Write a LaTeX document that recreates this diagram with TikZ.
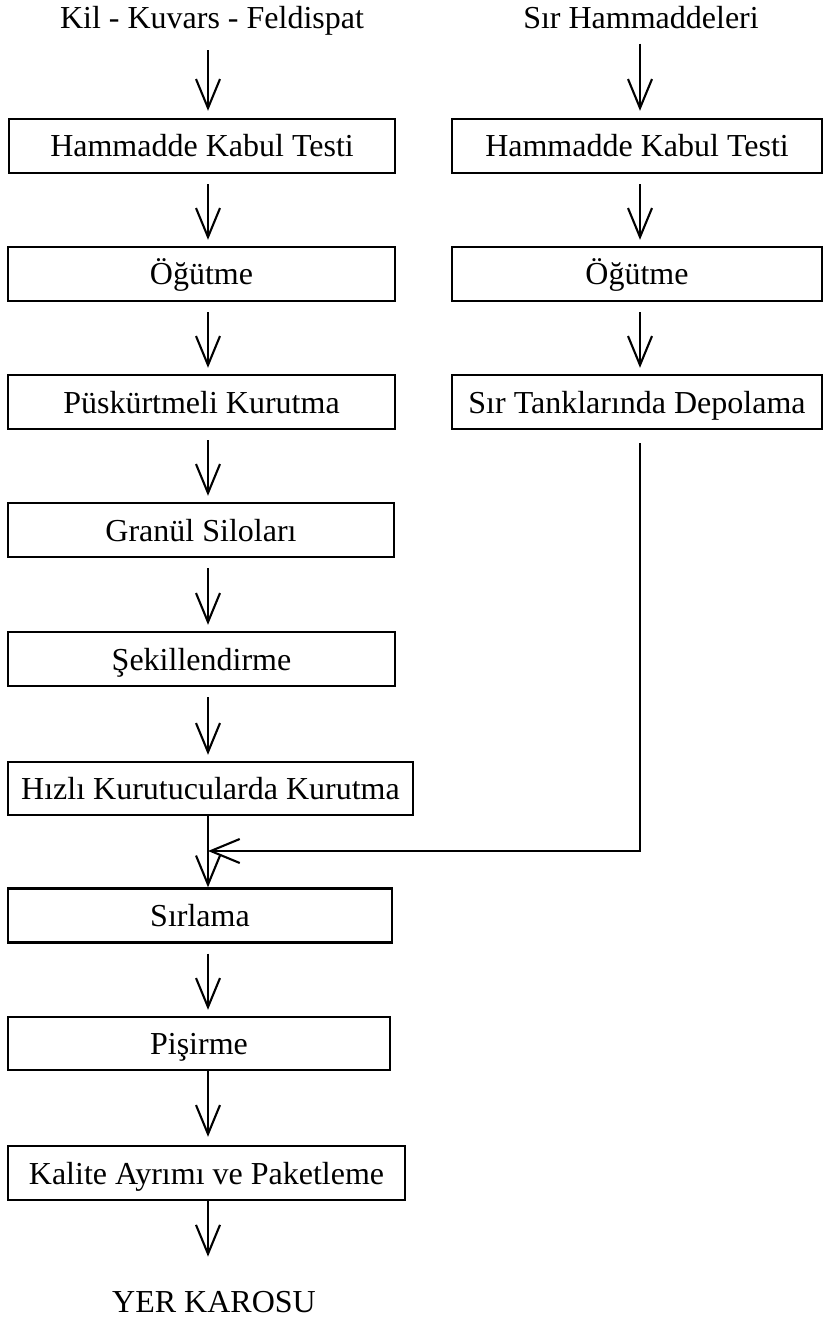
\documentclass[tikz,border=0pt]{standalone}
\usepackage{fontspec}
\setmainfont{Liberation Serif}
\usetikzlibrary{arrows.meta}
\begin{document}
\begin{tikzpicture}[x=1pt, y=-1pt,
  every node/.style={font=\fontsize{32}{37}\selectfont},
  stepbox/.style={draw, line width=2.4pt, rectangle, inner sep=0pt,
    text height=22pt, text depth=0pt, minimum height=54pt},
  flow/.style={line width=2.1pt,
    -{Straight Barb[length=29pt, width=24pt, line width=2.1pt]}},
  gap/.style={shorten <=10pt, shorten >=6pt},
  caption/.style={inner sep=0pt, anchor=base}]
\useasboundingbox (0,0) rectangle (826,1321);

% arrow columns
\coordinate (xl) at (208,0);
\coordinate (xr) at (640,0);
\coordinate (m) at (208,851);

% source labels
\node[caption] (t1) at (212,29) {Kil - Kuvars - Feldispat};
\node[caption] (t2) at (641,29) {Sır Hammaddeleri};

% body column
\node[stepbox, minimum width=386pt] (b1) at (202,146)   {Hammadde Kabul Testi};
\node[stepbox, minimum width=387pt] (b2) at (201.5,274) {Öğütme};
\node[stepbox, minimum width=387pt] (b3) at (201.5,402) {Püskürtmeli Kurutma};
\node[stepbox, minimum width=386pt] (b4) at (201,530)   {Granül Siloları};
\node[stepbox, minimum width=387pt] (b5) at (201.5,659) {Şekillendirme};
\node[stepbox, minimum width=405pt, minimum height=53pt] (b6) at (210.5,788.5) {Hızlı Kurutucularda Kurutma};
\node[stepbox, minimum width=384pt] (b7) at (200,915.5) {Sırlama};
\node[stepbox, minimum width=382pt, minimum height=53pt] (b8) at (199,1043.5) {Pişirme};
\node[stepbox, minimum width=397pt] (b9) at (206.5,1173) {Kalite Ayrımı ve Paketleme};
\node[caption] (end) at (214,1312) {YER KAROSU};

% glaze column
\node[stepbox, minimum width=370pt] (r1) at (637,146) {Hammadde Kabul Testi};
\node[stepbox, minimum width=370pt] (r2) at (637,274) {Öğütme};
\node[stepbox, minimum width=370pt] (r3) at (637,402) {Sır Tanklarında Depolama};

% connectors, body column
\draw[flow, shorten <=14pt, shorten >=7pt] (t1.south -| xl) -- (b1.north -| xl);
\draw[flow, gap] (b1.south -| xl) -- (b2.north -| xl);
\draw[flow, gap] (b2.south -| xl) -- (b3.north -| xl);
\draw[flow, gap] (b3.south -| xl) -- (b4.north -| xl);
\draw[flow, gap] (b4.south -| xl) -- (b5.north -| xl);
\draw[flow, gap] (b5.south -| xl) -- (b6.north -| xl);
\draw[flow] (b6.south -| xl) -- (b7.north -| xl);
\draw[flow, gap] (b7.south -| xl) -- (b8.north -| xl);
\draw[flow, shorten >=8pt] (b8.south -| xl) -- (b9.north -| xl);
\draw[flow, shorten >=34pt] (b9.south -| xl) -- (end.north -| xl);

% connectors, glaze column
\draw[flow, shorten <=14pt, shorten >=7pt] (t2.south -| xr) -- (r1.north -| xr);
\draw[flow, gap] (r1.south -| xr) -- (r2.north -| xr);
\draw[flow, gap] (r2.south -| xr) -- (r3.north -| xr);
\draw[flow, shorten <=13pt] (r3.south -| xr) |- (m);
\end{tikzpicture}
\end{document}
